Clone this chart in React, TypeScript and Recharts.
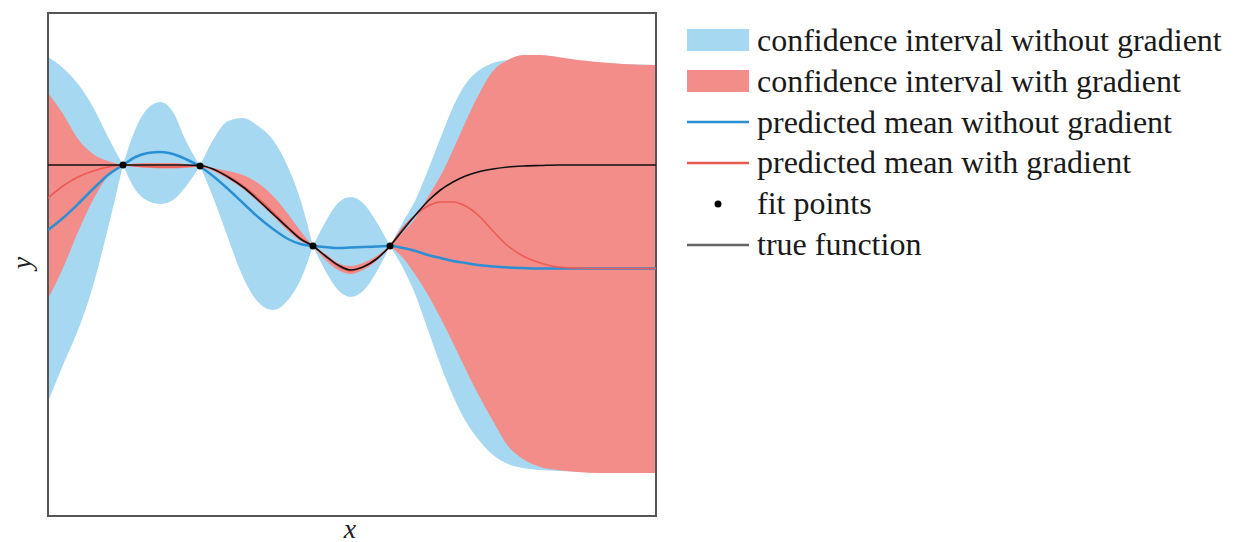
import { ComposedChart, Area, Line, Scatter, XAxis, YAxis, ReferenceArea } from 'recharts';

// sample positions along x (fit points included so the bands pinch there)
const xs = [0, 0.3, 0.6, 0.9, 1.2, 1.5, 1.75, 2.0, 2.25, 2.5, 2.75, 3.04, 3.3, 3.6, 3.9, 4.2, 4.5, 4.8, 5.05, 5.3, 5.55, 5.8, 6.05, 6.3, 6.57, 6.84, 7.1, 7.35, 7.6, 7.85, 8.1, 8.35, 8.6, 8.9, 9.2, 9.5, 9.85, 10.2, 10.6, 11.0, 11.5, 12.16];

const blueUpper = [4.15, 3.93, 3.61, 3.15, 2.55, 1.99, 2.71, 3.13, 3.25, 3.05, 2.49, 1.97, 2.49, 2.87, 2.93, 2.77, 2.49, 1.95, 1.29, 0.37, 0.85, 1.23, 1.35, 1.23, 0.85, 0.37, 0.85, 1.29, 1.89, 2.53, 3.15, 3.61, 3.87, 4.03, 4.09, 4.11, 4.09, 4.07, 4.05, 4.03, 4.01, 3.99];
const blueLower = [-2.75, -2.01, -1.31, -0.43, 0.73, 1.99, 1.49, 1.27, 1.21, 1.29, 1.55, 1.97, 1.35, 0.53, -0.25, -0.75, -0.91, -0.71, -0.31, 0.37, -0.13, -0.51, -0.65, -0.53, -0.15, 0.37, -0.07, -0.61, -1.31, -2.01, -2.63, -3.13, -3.49, -3.81, -3.99, -4.07, -4.11, -4.13, -4.14, -4.14, -4.14, -4.14];
const redUpper = [3.43, 3.01, 2.51, 2.21, 2.07, 1.99, 2.02, 2.03, 2.03, 2.03, 2.01, 1.97, 1.93, 1.87, 1.79, 1.63, 1.37, 1.01, 0.67, 0.37, 0.21, 0.03, -0.03, 0.03, 0.17, 0.37, 0.65, 0.93, 1.35, 1.77, 2.29, 2.85, 3.37, 3.87, 4.09, 4.19, 4.19, 4.15, 4.09, 4.05, 4.01, 3.99];
const redLower = [-0.69, -0.07, 0.65, 1.29, 1.77, 1.99, 1.95, 1.93, 1.92, 1.92, 1.93, 1.97, 1.87, 1.71, 1.51, 1.25, 0.97, 0.67, 0.47, 0.37, 0.09, -0.11, -0.19, -0.11, 0.07, 0.37, 0.13, -0.21, -0.61, -1.07, -1.57, -2.09, -2.59, -3.13, -3.63, -3.89, -4.05, -4.11, -4.15, -4.17, -4.17, -4.17];
const blueMean = [0.69, 0.93, 1.21, 1.51, 1.79, 1.99, 2.15, 2.23, 2.25, 2.21, 2.11, 1.96, 1.77, 1.51, 1.23, 0.95, 0.71, 0.51, 0.41, 0.37, 0.35, 0.33, 0.34, 0.35, 0.36, 0.37, 0.33, 0.27, 0.19, 0.13, 0.07, 0.03, -0.01, -0.04, -0.06, -0.07, -0.08, -0.08, -0.08, -0.08, -0.08, -0.08];
const redMean = [1.33, 1.57, 1.75, 1.87, 1.95, 1.99, 1.97, 1.96, 1.95, 1.95, 1.96, 1.97, 1.91, 1.77, 1.57, 1.33, 1.05, 0.75, 0.53, 0.37, 0.17, -0.03, -0.13, -0.05, 0.11, 0.37, 0.73, 0.99, 1.17, 1.25, 1.25, 1.17, 0.99, 0.67, 0.37, 0.17, 0.03, -0.05, -0.07, -0.08, -0.08, -0.08];
const trueFn = [1.99, 1.99, 1.99, 1.99, 1.99, 1.99, 1.99, 1.99, 1.99, 1.99, 1.99, 1.98, 1.91, 1.75, 1.55, 1.29, 1.01, 0.73, 0.51, 0.37, 0.17, -0.01, -0.11, -0.05, 0.11, 0.37, 0.69, 0.99, 1.27, 1.49, 1.65, 1.77, 1.85, 1.91, 1.95, 1.97, 1.98, 1.99, 1.99, 1.99, 1.99, 1.99];

const fitX = [1.5, 3.04, 5.3, 6.84];
const fitY = [1.99, 1.97, 0.37, 0.37];

const legendLabels = [
  'confidence interval without gradient',
  'confidence interval with gradient',
  'predicted mean without gradient',
  'predicted mean with gradient',
  'fit points',
  'true function',
];

const BLUE_FILL = '#a6d8f2';
const RED_FILL = '#f28d8a';
const BLUE_LINE = '#2b8fd3';
const RED_LINE = '#ec5a55';
const BLACK = '#111111';
const FONT = '"Liberation Serif", serif';

// the bands pinch at every fit point, so each band is split into pieces between them
const cuts = [0, ...fitX.map((fx) => xs.indexOf(fx)), xs.length - 1];
const segments = cuts.slice(0, -1).map((start, s) => [start, cuts[s + 1]]);

const data = xs.map((x, i) => {
  const row: Record<string, any> = {
    x,
    blueMean: blueMean[i],
    redMean: redMean[i],
    truth: trueFn[i],
  };
  segments.forEach(([a, b], s) => {
    const inside = i >= a && i <= b;
    row[`blue${s}`] = inside ? [blueLower[i], blueUpper[i]] : null;
    row[`red${s}`] = inside ? [redLower[i], redUpper[i]] : null;
  });
  return row;
});

const fitPoints = fitX.map((x, i) => ({ x, y: fitY[i] }));

function Swatch({ kind }: { kind: number }) {
  return (
    <svg width={63} height={30} style={{ marginRight: 8, flexShrink: 0 }}>
      {kind === 0 && <rect x={1} y={4} width={62} height={22} fill={BLUE_FILL} />}
      {kind === 1 && <rect x={1} y={4} width={62} height={22} fill={RED_FILL} />}
      {kind === 2 && <line x1={1} x2={63} y1={15} y2={15} stroke={BLUE_LINE} strokeWidth={2.5} />}
      {kind === 3 && <line x1={1} x2={63} y1={15} y2={15} stroke={RED_LINE} strokeWidth={2.5} />}
      {kind === 4 && <circle cx={32} cy={15} r={3.5} fill="#000" />}
      {kind === 5 && <line x1={1} x2={63} y1={16} y2={16} stroke="#666" strokeWidth={2.5} />}
    </svg>
  );
}

export default function App() {
  return (
    <div style={{ position: 'relative', width: 1226, height: 534, fontFamily: FONT }}>
      <ComposedChart width={1226} height={534} data={data} margin={{ top: 5, right: 578, bottom: 0, left: 0 }}>
        <XAxis type="number" dataKey="x" domain={[0, 12.16]} allowDataOverflow tick={false} tickLine={false} axisLine={false} height={26} />
        <YAxis type="number" domain={[-5.03, 5.03]} allowDataOverflow tick={false} tickLine={false} axisLine={false} width={40} />
        {segments.map((_, s) => (
          <Area key={`b${s}`} type="monotone" dataKey={`blue${s}`} stroke="none" fill={BLUE_FILL} fillOpacity={1} connectNulls={false} isAnimationActive={false} />
        ))}
        {segments.map((_, s) => (
          <Area key={`r${s}`} type="monotone" dataKey={`red${s}`} stroke="none" fill={RED_FILL} fillOpacity={1} connectNulls={false} isAnimationActive={false} />
        ))}
        <Line type="monotone" dataKey="blueMean" stroke={BLUE_LINE} strokeWidth={2.5} dot={false} isAnimationActive={false} />
        <Line type="monotone" dataKey="redMean" stroke={RED_LINE} strokeWidth={1.6} dot={false} isAnimationActive={false} />
        <Line type="monotone" dataKey="truth" stroke={BLACK} strokeWidth={1.6} dot={false} isAnimationActive={false} />
        <Scatter
          data={fitPoints}
          dataKey="y"
          isAnimationActive={false}
          shape={(p: any) => <circle cx={p.cx} cy={p.cy} r={3.5} fill="#000" />}
        />
        <ReferenceArea x1={0} x2={12.16} y1={-5.03} y2={5.03} fill="none" stroke="#555" strokeWidth={2} />
      </ComposedChart>
      <div
        style={{
          position: 'absolute', left: 14, top: 255, transform: 'translate(-50%, -50%) rotate(-90deg)',
          fontSize: 28, fontStyle: 'italic', color: '#222', lineHeight: 1,
        }}
      >
        y
      </div>
      <div
        style={{
          position: 'absolute', left: 342, top: 521, transform: 'translate(-50%, -50%)',
          fontSize: 28, fontStyle: 'italic', color: '#222', lineHeight: 1,
        }}
      >
        x
      </div>
      <div style={{ position: 'absolute', left: 678, top: 12, color: '#1a1a1a', fontSize: 32, lineHeight: '40.8px' }}>
        {legendLabels.map((label, i) => (
          <div key={label} style={{ display: 'flex', alignItems: 'center', height: 40.8, whiteSpace: 'nowrap' }}>
            <Swatch kind={i} />
            <span>{label}</span>
          </div>
        ))}
      </div>
    </div>
  );
}
